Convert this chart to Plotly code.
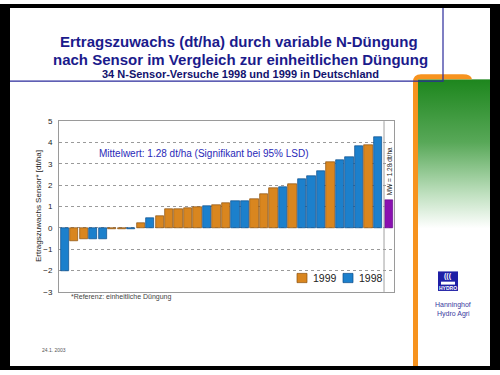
import base64
import plotly.graph_objects as go

# ---------------- data ----------------
values = [-2.02, -0.60, -0.55, -0.54, -0.53, -0.08, -0.08, -0.08, 0.20, 0.46,
          0.55, 0.87, 0.87, 0.92, 0.97, 1.01, 1.07, 1.17, 1.24, 1.24,
          1.33, 1.58, 1.84, 1.93, 2.04, 2.27, 2.41, 2.68, 3.08, 3.19,
          3.31, 3.83, 3.88, 4.23]
years = [1998, 1999, 1999, 1998, 1998, 1999, 1999, 1998, 1999, 1998,
         1999, 1999, 1999, 1999, 1999, 1998, 1999, 1999, 1998, 1998,
         1999, 1999, 1999, 1998, 1999, 1998, 1998, 1998, 1999, 1998,
         1998, 1998, 1999, 1998]
mean_value = 1.28
legend_years = [1999, 1998]
y_ticks = [-3, -2, -1, 0, 1, 2, 3, 4, 5]

W, H = 500, 375
def px(x): return x / W
def py(y): return 1 - y / H

FONT = "Liberation Sans, Arial, sans-serif"
ORANGE, ORANGE_LINE = "#d9861f", "#8a5010"
BLUE, BLUE_LINE = "#1c80cc", "#0a4a88"
PURPLE = "#8a10b0"
colors = {1999: (ORANGE, ORANGE_LINE), 1998: (BLUE, BLUE_LINE)}

n = len(values)
fig = go.Figure()
for yr in legend_years:
    xs = [i for i in range(n) if years[i] == yr]
    fig.add_trace(go.Bar(
        x=xs, y=[values[i] for i in xs], name=str(yr), width=0.875,
        marker=dict(color=colors[yr][0], line=dict(color=colors[yr][1], width=0.7)),
        showlegend=False))
mw_x = n + 0.15
fig.add_trace(go.Bar(x=[mw_x], y=[mean_value], width=0.82, showlegend=False,
                     marker=dict(color=PURPLE, line=dict(color="#5a0080", width=0.6))))

shapes = []
# black slide border
for (x0, y0, x1, y1) in [(0, 0, 500, 4), (0, 0, 10, 375), (490, 0, 500, 375), (0, 371, 500, 375)]:
    shapes.append(dict(type="rect", xref="paper", yref="paper", x0=px(x0), x1=px(x1),
                       y0=py(y1), y1=py(y0), fillcolor="black", line=dict(width=0), layer="below"))
# orange frame (L shape with rounded corners)
path = (f"M {px(413)},{py(371)} L {px(413)},{py(80)} Q {px(413)},{py(72)} {px(421)},{py(72)} "
        f"L {px(463)},{py(72)} Q {px(471)},{py(72)} {px(472)},{py(77)} L {px(418)},{py(77)} "
        f"L {px(418)},{py(371)} Z")
shapes.append(dict(type="path", xref="paper", yref="paper", path=path,
                   fillcolor="#f7931e", line=dict(width=0), layer="below"))
# blue title line
shapes.append(dict(type="path", xref="paper", yref="paper",
                   path=f"M {px(10)},{py(79)} L {px(443)},{py(79)} L {px(443)},{py(4)}",
                   line=dict(color="#2b2b9c", width=1.2)))
# separator in chart for mean bar
shapes.append(dict(type="line", xref="x", yref="y domain", x0=n - 0.37, x1=n - 0.37,
                   y0=0, y1=1, line=dict(color="#a0a0a0", width=1)))
# legend swatches
for (x0, col, lc) in [(297, ORANGE, ORANGE_LINE), (343, BLUE, BLUE_LINE)]:
    shapes.append(dict(type="rect", xref="paper", yref="paper", x0=px(x0), x1=px(x0 + 10),
                       y0=py(285.5), y1=py(276), fillcolor=col, line=dict(color=lc, width=0.7)))
# HYDRO logo
shapes.append(dict(type="rect", xref="paper", yref="paper", x0=px(438), x1=px(458),
                   y0=py(294), y1=py(274), fillcolor="#1f1fa6", line=dict(width=0)))
shapes.append(dict(type="rect", xref="paper", yref="paper", x0=px(441), x1=px(455),
                   y0=py(287.5), y1=py(284.5), fillcolor="white", line=dict(width=0)))

# green gradient panel as svg image
svg = ('<svg xmlns="http://www.w3.org/2000/svg" width="72" height="294" viewBox="0 0 72 294">'
       '<defs><linearGradient id="g" x1="0" y1="0" x2="0" y2="1">'
       '<stop offset="0" stop-color="#1d861d"/><stop offset="0.22" stop-color="#58a858"/>'
       '<stop offset="0.40" stop-color="#bfe0bf"/><stop offset="0.52" stop-color="#ffffff"/>'
       '<stop offset="1" stop-color="#ffffff"/></linearGradient></defs>'
       '<rect width="72" height="294" fill="url(#g)"/></svg>')
src = "data:image/svg+xml;base64," + base64.b64encode(svg.encode()).decode()
images = [dict(source=src, xref="paper", yref="paper", x=px(418), y=py(77),
               sizex=px(490) - px(418), sizey=294 / H, sizing="stretch",
               xanchor="left", yanchor="top", layer="below")]

NAVY = "#1b1b8c"
ann = [
    dict(text="<b>Ertragszuwachs (dt/ha) durch variable N-Düngung</b>", x=px(239), y=py(38),
         font=dict(size=15, color=NAVY)),
    dict(text="<b>nach Sensor im Vergleich zur einheitlichen Düngung</b>", x=px(240), y=py(57),
         font=dict(size=15, color=NAVY)),
    dict(text="<b>34 N-Sensor-Versuche 1998 und 1999 in Deutschland</b>", x=px(240), y=py(72),
         font=dict(size=11, color="#12126e")),
    dict(text="Mittelwert: 1.28 dt/ha (Signifikant bei 95% LSD)", x=px(204), y=py(153),
         font=dict(size=10, color="#2a2ab8")),
    dict(text="Ertragszuwachs Sensor* [dt/ha]", x=px(38), y=py(207), textangle=-90,
         font=dict(size=8, color="#222")),
    dict(text="*Referenz: einheitliche Düngung", x=px(69), y=py(300), xanchor="left",
         font=dict(size=7, color="#444")),
    dict(text="1999", x=px(311), y=py(281), xanchor="left", font=dict(size=10.5, color="#222")),
    dict(text="1998", x=px(357), y=py(281), xanchor="left", font=dict(size=10.5, color="#222")),
    dict(text="Hanninghof", x=px(453), y=py(308), font=dict(size=7, color="#3a3aa0")),
    dict(text="Hydro Agri", x=px(453), y=py(318), font=dict(size=7, color="#3a3aa0")),
    dict(text="<b>(((</b>", x=px(448), y=py(279), font=dict(size=7, color="white")),
    dict(text="<b>HYDRO</b>", x=px(448), y=py(291), font=dict(size=5, color="white")),
    dict(text="24.1. 2003", x=px(40), y=py(354), xanchor="left", font=dict(size=5, color="#555")),
]
for a in ann:
    a.setdefault("xref", "paper"); a.setdefault("yref", "paper")
    a.setdefault("showarrow", False)
    a.setdefault("xanchor", "center"); a.setdefault("yanchor", "middle")
ann.append(dict(text="MW = 1.28 dt/ha", x=mw_x, y=2.65, xref="x", yref="y", textangle=-90,
                showarrow=False, font=dict(size=6.5, color="#222")))

fig.update_layout(
    width=W, height=H, margin=dict(l=0, r=0, t=0, b=0),
    paper_bgcolor="white", plot_bgcolor="white",
    font=dict(family=FONT),
    barmode="overlay", bargap=0,
    shapes=shapes, images=images, annotations=ann,
    xaxis=dict(domain=[px(59), px(394)], range=[-0.6, n + 0.68], showticklabels=False,
               showgrid=False, zeroline=False, showline=True, mirror=True,
               linecolor="#9a9a9a", linewidth=1, ticks=""),
    yaxis=dict(domain=[py(295), py(120)], range=[-3, 5], tickvals=y_ticks,
               showgrid=True, gridcolor="#9a9a9a", griddash="dot", gridwidth=1,
               zeroline=False, showline=True, mirror=True, linecolor="#9a9a9a",
               linewidth=1, ticks="", ticklabelstandoff=4,
               tickfont=dict(size=8, color="#222")),
)
fig.write_html("out.html", config={"displayModeBar": False},
               post_script="document.body.style.margin='0';document.body.style.overflow='hidden';")
